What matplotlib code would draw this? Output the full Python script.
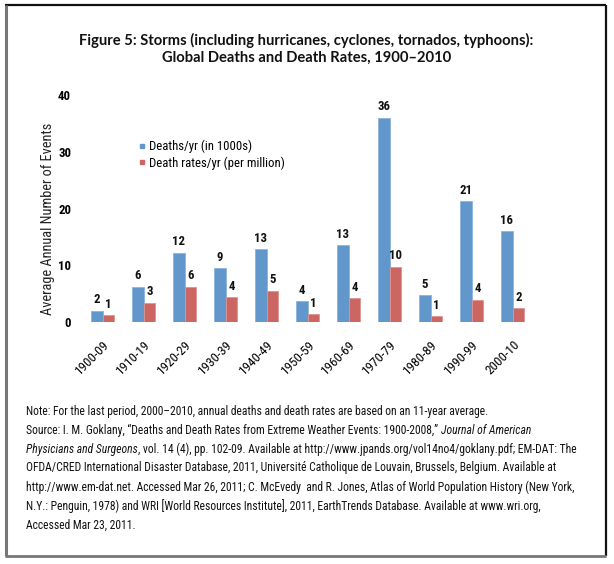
import matplotlib
matplotlib.use("Agg")
import matplotlib.pyplot as plt
import numpy as np
from matplotlib import font_manager as fm
from matplotlib.lines import Line2D
from matplotlib.transforms import ScaledTranslation

# ---------------- data ----------------
periods = ["1900-09", "1910-19", "1920-29", "1930-39", "1940-49", "1950-59",
           "1960-69", "1970-79", "1980-89", "1990-99", "2000-10"]
deaths_per_yr = [1.94, 6.17, 12.16, 9.5, 12.86, 3.64, 13.5, 36.0, 4.75, 21.3, 16.0]
death_rates = [1.18, 3.4, 6.2, 4.35, 5.5, 1.35, 4.2, 9.7, 1.0, 3.93, 2.4]
deaths_labels = ["2", "6", "12", "9", "13", "4", "13", "36", "5", "21", "16"]
rates_labels = ["1", "3", "6", "4", "5", "1", "4", "10", "1", "4", "2"]
y_ticks = [0, 10, 20, 30, 40]
series_names = ["Deaths/yr (in 1000s)", "Death rates/yr (per million)"]

title_lines = ["Figure 5: Storms (including hurricanes, cyclones, tornados, typhoons):",
               "Global Deaths and Death Rates, 1900\u20132010"]
ylabel = "Average Annual Number of Events"
notes = [
    [("Note: For the last period, 2000\u20132010, annual deaths and death rates are based on an 11-year average.", "normal")],
    [("Source: I. M. Goklany, \u201cDeaths and Death Rates from Extreme Weather Events: 1900-2008,\u201d ", "normal"),
     ("Journal of American", "italic")],
    [("Physicians and Surgeons", "italic"),
     (", vol. 14 (4), pp. 102-09. Available at http://www.jpands.org/vol14no4/goklany.pdf; EM-DAT: The", "normal")],
    [("OFDA/CRED International Disaster Database, 2011, Universit\u00e9 Catholique de Louvain, Brussels, Belgium. Available at", "normal")],
    [("http://www.em-dat.net. Accessed Mar 26, 2011; C. McEvedy  and R. Jones, Atlas of World Population History (New York,", "normal")],
    [("N.Y.: Penguin, 1978) and WRI [World Resources Institute], 2011, EarthTrends Database. Available at www.wri.org,", "normal")],
    [("Accessed Mar 23, 2011.", "normal")],
]

# ---------------- fonts ----------------
def pick_condensed():
    entries = fm.fontManager.ttflist
    names = {f.name for f in entries}
    for p in ["Liberation Sans Narrow", "Arial Narrow", "Roboto Condensed",
              "Open Sans Condensed", "Noto Sans Condensed", "DejaVu Sans Condensed"]:
        if p in names:
            return p, "normal"
    for fam in ["Noto Sans", "Open Sans", "Roboto", "Liberation Sans", "DejaVu Sans", "Inter"]:
        for f in entries:
            st = f.stretch
            cond = (isinstance(st, str) and "condensed" in st) or \
                   (isinstance(st, (int, float)) and st < 500)
            if f.name == fam and cond:
                return fam, "condensed"
    return "Roboto", "normal"

NARROW, STRETCH = pick_condensed()
TITLE_FONT = "Lato"
plt.rcParams["font.family"] = [NARROW, "DejaVu Sans"]
plt.rcParams["font.stretch"] = STRETCH

BLUE = "#6197CA"
RED = "#CC6662"
W, H = 614, 564

fig = plt.figure(figsize=(W / 100, H / 100), dpi=100)
fig.patch.set_facecolor("white")
renderer = fig.canvas.get_renderer()

def size_for(text, target_px, **kw):
    t = fig.text(0, 0, text, fontsize=10, **kw)
    w = t.get_window_extent(renderer).width
    t.remove()
    return 10 * target_px / w

# background axes (full figure, pixel coordinates)
bg = fig.add_axes([0, 0, 1, 1])
bg.set_xlim(0, W)
bg.set_ylim(H, 0)
bg.axis("off")

# border
bg.plot([5, 606], [5, 5], color="#111111", lw=1.6, solid_capstyle="butt")
bg.plot([606, 606], [5, 556], color="#111111", lw=1.6, solid_capstyle="butt")
bg.plot([5.5, 5.5], [5, 556], color="#777777", lw=2.2, solid_capstyle="butt")
bg.plot([5, 606], [555.5, 555.5], color="#777777", lw=2.0, solid_capstyle="butt")

# title
fs_title = size_for(title_lines[0], 453, fontweight="bold", family=TITLE_FONT, stretch="normal")
bg.text(306.5, 40, title_lines[0], ha="center", va="center", fontsize=fs_title,
        fontweight="bold", family=TITLE_FONT, stretch="normal", color="#111111")
bg.text(306.5, 58, title_lines[1], ha="center", va="center", fontsize=fs_title,
        fontweight="bold", family=TITLE_FONT, stretch="normal", color="#111111")

# ---------------- chart ----------------
fs_val = size_for("36", 13, fontweight="bold")
fs_ytick = size_for("40", 13, fontweight="bold")
fs_xtick = size_for("1900-09", 42)
fs_leg = size_for(series_names[0], 102)
fs_ylab = size_for(ylabel, 192)
fs_note = size_for(notes[0][0][0], 462)

ax = fig.add_axes([82.2 / W, (H - 322) / H, 451 / W, 227 / H])
x = np.arange(len(periods))
bw = 0.285
ax.bar(x - bw / 2, deaths_per_yr, bw, color=BLUE, edgecolor="#8DB4DB", linewidth=0.6)
ax.bar(x + bw / 2, death_rates, bw, color=RED, edgecolor="#E09490", linewidth=0.6)

for xi, h, lbl in zip(x - bw / 2, deaths_per_yr, deaths_labels):
    ax.annotate(lbl, xy=(xi, h), xytext=(0, 5.4), textcoords="offset points",
                ha="center", va="baseline", fontsize=fs_val, fontweight="bold", color="#111111")
for xi, h, lbl in zip(x + bw / 2, death_rates, rates_labels):
    ax.annotate(lbl, xy=(xi, h), xytext=(0, 5.4), textcoords="offset points",
                ha="center", va="baseline", fontsize=fs_val, fontweight="bold", color="#111111")

ax.set_xlim(-0.5, len(periods) - 0.5)
ax.set_ylim(0, 40)
ax.set_yticks(y_ticks)
ax.set_yticklabels([str(t) for t in y_ticks], fontsize=fs_ytick, fontweight="bold")
ax.set_xticks(x)
ax.set_xticklabels(periods, fontsize=fs_xtick, rotation=45, ha="right", va="center",
                   rotation_mode="anchor")
ax.tick_params(axis="both", length=0)
ax.tick_params(axis="y", pad=8)
ax.tick_params(axis="x", pad=15)
off = ScaledTranslation(5 / 100, 0, fig.dpi_scale_trans)
for lab in ax.get_xticklabels():
    lab.set_transform(lab.get_transform() + off)
for s in ax.spines.values():
    s.set_visible(False)
ax.set_facecolor("none")

bg.text(48, 219, ylabel, rotation=90, ha="center", va="center", fontsize=fs_ylab, color="#222222")

handles = [Line2D([], [], marker="s", linestyle="none", markersize=3.2, color=BLUE),
           Line2D([], [], marker="s", linestyle="none", markersize=3.2, color=RED)]
fs_leg_px = fs_leg * 100 / 72
fig.legend(handles, series_names, loc="upper left",
           bbox_to_anchor=(139 / W, 1 - 140 / H), frameon=False, fontsize=fs_leg,
           handlelength=0.5, handletextpad=0.3,
           labelspacing=max(0.0, (18 - 1.17 * fs_leg_px) / fs_leg_px), borderpad=0,
           borderaxespad=0)

# ---------------- footnote ----------------
ys = [411, 430, 449, 467.7, 487, 506, 525]
x0 = 26
for y, parts in zip(ys, notes):
    prev = None
    for txt, style in parts:
        if prev is None:
            prev = bg.annotate(txt, xy=(x0, y), xycoords="data", ha="left", va="center",
                               fontsize=fs_note, style=style, color="#111111")
        else:
            prev = bg.annotate(txt, xy=(1, 0), xycoords=prev, ha="left", va="bottom",
                               fontsize=fs_note, style=style, color="#111111")

fig.savefig("out.png", dpi=100)
